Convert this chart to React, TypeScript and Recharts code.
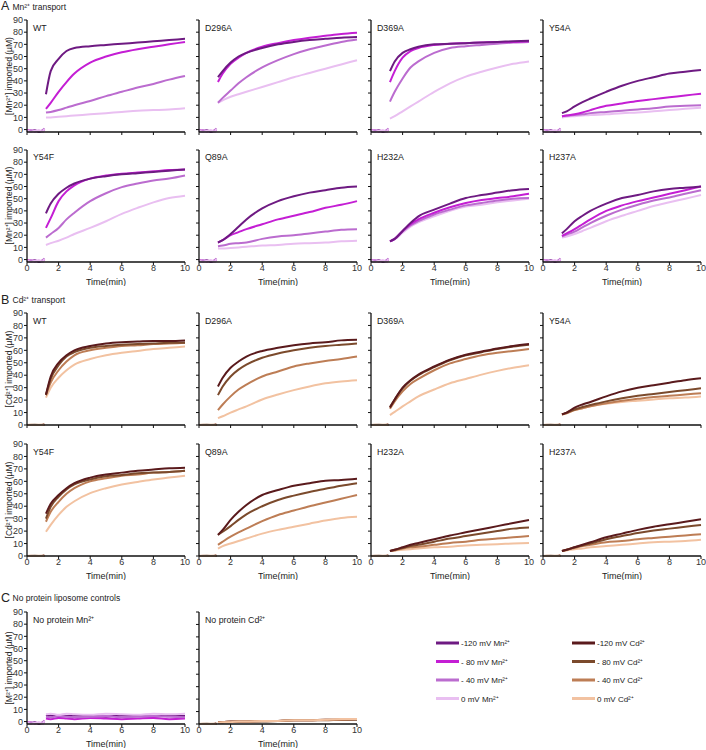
import React from 'react';
import { LineChart, Line, XAxis, YAxis } from 'recharts';

const FONT = '"Liberation Sans", Arial, Helvetica, sans-serif';

// time grids (min)
const baseTimes = [0, 0.25, 0.5, 0.75, 1.0, 1.1];
const gapTime = 1.15;
const curveTimes = [1.2, 1.5, 2, 2.5, 3, 4, 5, 6, 7, 8, 9, 10];
const xTicks = [0, 2, 4, 6, 8, 10];
const yTicks = [0, 10, 20, 30, 40, 50, 60, 70, 80, 90];

// series order: -120 mV, -80 mV, -40 mV, 0 mV
const mnColors = ['#6e1a82', '#c41ed4', '#bb6ccf', '#e9bff1'];
const cdColors = ['#5a1a1c', '#7b4a2c', '#bd7d55', '#f2c2a1'];
const mnLegend = ['-120 mV Mn²⁺', '- 80 mV Mn²⁺', '- 40 mV Mn²⁺', '0 mV Mn²⁺'];
const cdLegend = ['-120 mV Cd²⁺', '- 80 mV Cd²⁺', '- 40 mV Cd²⁺', '0 mV Cd²⁺'];

// pre-voltage baselines
const mnBase = [
  [-1, -1.5, -0.5, -2, -1, 0.5],
  [-0.5, -1, -1.5, -1, -1.5, 0],
  [-1.5, -0.5, -1, -1.5, -0.5, 1],
  [-1, -2, -1, -0.5, -2, 0.5],
];
const cdBase = [
  [0, 0, 0, 0, 0.2, 0.5],
  [0, 0, 0.2, 0, 0, 0.3],
  [0, 0.2, 0, 0, 0.2, 0.2],
  [0, 0, 0, 0.2, 0, 0.3],
];

// A: Mn2+ transport
const mnWT = [
  [29, 48, 58, 64.5, 67, 68.5, 69.5, 70.5, 71.5, 72.5, 73.5, 74.5],
  [17, 22, 31, 39, 46, 55, 60, 63.5, 66, 68, 70, 72],
  [14, 14.5, 16, 18, 20, 23.5, 27.5, 31, 34.5, 37.5, 41, 44],
  [10, 10, 10.5, 11, 11.5, 12.5, 13.5, 14.5, 15.5, 16, 16.5, 17.5],
];
const mnD296A = [
  [43, 48, 55, 60, 63, 67, 70, 72, 73.5, 74.5, 75.5, 76],
  [39, 46, 54, 59, 63, 68, 71, 73.5, 75.5, 77, 78.5, 79.5],
  [22, 26, 32, 38, 43, 51, 57, 62, 66, 69, 72, 74],
  [22, 24, 27, 29, 31, 35, 39, 43, 46.5, 50, 53.5, 57],
];
const mnD369A = [
  [48, 56, 63, 66, 68, 70, 70.5, 71, 71.5, 72, 72.5, 73],
  [39, 48, 59, 64.5, 67, 69.5, 70.5, 71, 71.5, 72, 72, 72.5],
  [23, 31, 42, 51, 56, 63, 67, 68.5, 69.5, 70.5, 71.5, 72],
  [9, 11, 15, 19, 23, 31, 38, 43.5, 47.5, 51, 54, 56],
];
const mnY54A = [
  [13.5, 15, 19, 22.5, 25.5, 31, 36, 40, 43, 46, 47.5, 49],
  [11, 11.5, 12.5, 14, 16, 19.5, 21.5, 23.5, 25, 26.5, 28, 29.5],
  [11, 11.5, 12, 12.5, 13.5, 14.5, 15.5, 16.5, 17.5, 19, 19.5, 20],
  [10, 10.5, 11, 11.5, 12, 12.5, 13.5, 14, 15, 16, 17, 18],
];
const mnY54F = [
  [38, 46, 54, 59, 62.5, 66.5, 68.5, 70, 71, 72, 73, 74],
  [26, 34, 48, 56, 61, 66.5, 69, 70.5, 71.5, 72.5, 73.5, 74],
  [18, 21, 26, 33, 38.5, 48, 54.5, 59.5, 62.5, 65, 66.5, 69],
  [12, 13.5, 15.5, 18, 21, 26, 31.5, 37.5, 42.5, 47, 50.5, 52.5],
];
const mnQ89A = [
  [14, 16, 21, 27, 33, 42, 48, 52, 55, 57, 59, 60],
  [14, 16, 20, 22.5, 25, 29, 33, 36, 39, 42.5, 45, 48],
  [11, 11.5, 13, 13.5, 14, 17, 19, 20, 21.5, 23, 24.5, 25],
  [9, 9, 9.5, 10, 10.5, 11.5, 12, 13, 13.5, 14, 15, 15.5],
];
const mnH232A = [
  [15, 17, 23.5, 30, 35.5, 41, 46, 50.5, 53, 55, 57, 58],
  [15, 17, 23.5, 29, 33, 38.5, 43, 46.5, 49, 50.5, 52, 54],
  [15, 17, 23, 28, 31.5, 37, 41, 44.5, 46.5, 48.5, 50, 50.5],
  [15, 16.5, 22, 27, 30.5, 35.5, 40, 43.5, 45, 47, 48.5, 50],
];
const mnH237A = [
  [21.5, 25, 31.5, 36, 40, 46, 50.5, 53, 56, 58, 59, 60],
  [19.5, 21.5, 25, 29, 33, 40, 44.5, 48, 51, 54, 57, 60],
  [19, 20.5, 23, 26.5, 30, 36, 41, 45, 48.5, 51, 54, 57],
  [18, 19, 21, 23.5, 26, 31.5, 36, 40, 44, 47, 50, 53],
];

// B: Cd2+ transport
const cdWT = [
  [24.5, 39, 50, 56, 60, 63.5, 65.5, 66.5, 67, 67.5, 67.5, 68],
  [24, 37, 48, 55, 58.5, 62, 63.5, 64.5, 65, 65.5, 66, 66],
  [24, 34, 44, 51, 56, 60, 62, 63.5, 64, 65, 65.5, 66],
  [22, 30, 38, 44, 48.5, 53, 56, 58, 59.5, 61, 62, 63],
];
const cdD296A = [
  [31, 38, 46, 51, 55, 59.5, 62, 64, 65.5, 66.5, 68, 68.5],
  [24, 31, 39, 44.5, 48.5, 54, 57.5, 60, 62, 63.5, 64.5, 65.5],
  [12, 16.5, 23, 28.5, 32.5, 39, 43, 47, 49.5, 51.5, 53, 55],
  [5.5, 7, 10, 12.5, 15, 20.5, 24.5, 28, 31, 33.5, 35, 36],
];
const cdD369A = [
  [14, 20.5, 30, 36, 40.5, 47, 52.5, 56.5, 59, 61.5, 63.5, 65],
  [14.5, 20.5, 29.5, 35.5, 40, 46.5, 52, 56, 58.5, 61, 63, 64.5],
  [13, 19, 27, 33, 37, 44, 49.5, 53, 56, 58, 59.5, 61],
  [8, 10.5, 15, 19, 23, 28.5, 33.5, 37, 40.5, 43.5, 46, 48],
];
const cdY54A = [
  [8.5, 10, 14, 16.5, 18.5, 23, 27, 30, 32, 34, 36, 37.5],
  [8.5, 10, 12.5, 14.5, 16, 19, 21.5, 23.5, 25, 26.5, 28, 29.5],
  [8.5, 9.5, 12, 13.5, 15, 17.5, 19.5, 21, 22.5, 23.5, 24.5, 25.5],
  [8.5, 9.5, 12, 13.5, 15, 17, 18.5, 19.5, 20.5, 21.5, 22, 23],
];
const cdY54F = [
  [34, 42, 49, 54.5, 58.5, 63, 65.5, 67, 68.5, 69.5, 70.5, 71],
  [30, 39.5, 47.5, 53.5, 57.5, 61.5, 64, 65, 66.5, 67, 67.5, 68.5],
  [27.5, 35.5, 43.5, 50, 54.5, 60, 62.5, 64.5, 65.5, 67, 67.5, 68.5],
  [19.5, 25, 33, 39.5, 44, 50.5, 54.5, 57.5, 59.5, 61.5, 63, 64.5],
];
const cdQ89A = [
  [17, 21, 29, 35.5, 41, 49, 53, 56.5, 58.5, 60.5, 61, 62],
  [17, 19.5, 24, 29, 33.5, 40, 45, 48.5, 51.5, 54, 56.5, 58.5],
  [9, 11.5, 15.5, 19, 22, 28, 33, 36.5, 40, 43, 46, 49],
  [6, 8, 10, 12, 14, 18, 21, 23.5, 26, 28.5, 30.5, 31.5],
];
const cdH232A = [
  [4, 5, 7, 9, 10.5, 13.5, 16.5, 19, 21.5, 24, 26.5, 29],
  [4, 5, 6.5, 8, 9, 11.5, 14, 16, 18, 20, 22, 23],
  [4, 4.5, 6, 7, 7.5, 9, 10.5, 11.5, 13, 14, 15, 16],
  [4, 4.5, 5, 5.5, 6, 7, 7.5, 8.5, 9, 9.5, 10, 10.5],
];
const cdH237A = [
  [4, 5, 7, 9, 11, 15, 18, 21, 23.5, 25.5, 27.5, 29.5],
  [4, 5, 7, 8.5, 10, 13.5, 16, 18.5, 20.5, 22, 23.5, 25],
  [4, 5, 6.5, 8, 9, 11, 12, 13.5, 14.5, 15.5, 16.5, 17.5],
  [4, 4.5, 5.5, 6, 7, 8, 9, 10, 11, 11.5, 12, 13],
];

// C: no protein controls
const ctrlMn = [
  [4.5, 5, 4, 4.5, 5, 4.5, 4, 5, 4.5, 4, 5, 4.5],
  [2.5, 2, 3, 2.5, 2, 3, 2.5, 2, 2.5, 3, 2, 2.5],
  [4, 3.5, 4.5, 4, 3.5, 4, 4.5, 3.5, 4, 4.5, 4, 3.5],
  [6, 6.5, 5.5, 6.5, 6, 5.5, 6.5, 6, 5.5, 6.5, 6, 6.5],
];
const ctrlCd = [
  [1.5, 1.5, 2, 2, 2, 2.5, 2.5, 3, 3, 3.5, 3.5, 4],
  [1.5, 1.5, 1.5, 2, 2, 2, 2.5, 3, 3, 3, 3.5, 3.5],
  [1.5, 1.5, 2, 2, 2, 2.5, 2.5, 3, 3, 3.5, 3.5, 4],
  [1, 1.5, 1.5, 2, 2, 2.5, 2.5, 3, 3, 3.5, 4, 4],
];

function buildRows(series: number[][], base: number[][]) {
  const rows: any[] = [];
  baseTimes.forEach((t, i) => {
    const r: any = { t };
    series.forEach((_, k) => { r['b' + k] = base[k][i]; });
    rows.push(r);
  });
  rows.push({ t: gapTime });
  curveTimes.forEach((t, i) => {
    const r: any = { t };
    series.forEach((s, k) => { r['s' + k] = s[i]; });
    rows.push(r);
  });
  return rows;
}

const PLOT_W = 158;
const PLOT_H = 112;
const AX_W = 27;
const MT = 6;
const MR = 8;
const XH = 24;

const COLS = [27, 199, 371, 543];
const ROW_A1 = 20;
const ROW_A2 = 149.5;
const ROW_B1 = 313;
const ROW_B2 = 444;
const ROW_C = 612;

type PanelProps = {
  left: number;
  top: number;
  rows: any[];
  colors: string[];
  showY: boolean;
  showX: boolean;
  lightOnTop: boolean;
};

function Panel({ left, top, rows, colors, showY, showX, lightOnTop }: PanelProps) {
  const curveOrder = lightOnTop ? [0, 1, 2, 3] : [3, 2, 1, 0];
  return (
    <div style={{ position: 'absolute', left: left - AX_W, top: top - MT }}>
      <LineChart
        width={AX_W + PLOT_W + MR}
        height={MT + PLOT_H + XH}
        data={rows}
        margin={{ top: MT, right: MR, bottom: 0, left: 0 }}
      >
        <XAxis
          dataKey="t"
          type="number"
          domain={[0, 10]}
          ticks={xTicks}
          interval={0}
          height={XH}
          tickSize={3}
          tickMargin={0}
          axisLine={{ stroke: '#111', strokeWidth: 1.3 }}
          tickLine={{ stroke: '#111', strokeWidth: 1 }}
          tick={{ fontSize: 9, fill: '#333', fontFamily: FONT }}
          tickFormatter={(v: number) => (showX ? String(v) : '')}
          label={
            showX
              ? { value: 'Time(min)', position: 'insideBottom', offset: 1, fontSize: 9, fill: '#222', fontFamily: FONT }
              : undefined
          }
        />
        <YAxis
          type="number"
          domain={[0, 90]}
          ticks={yTicks}
          interval={0}
          width={AX_W}
          tickSize={3}
          tickMargin={1}
          axisLine={{ stroke: '#111', strokeWidth: 1.3 }}
          tickLine={{ stroke: '#111', strokeWidth: 1 }}
          tick={{ fontSize: 9, fill: '#333', fontFamily: FONT }}
          tickFormatter={(v: number) => (showY ? String(v) : '')}
        />
        {[0, 1, 2, 3].map((k) => (
          <Line
            key={'b' + k}
            dataKey={'b' + k}
            type="linear"
            stroke={colors[k]}
            strokeWidth={2}
            dot={false}
            activeDot={false}
            connectNulls={false}
            isAnimationActive={false}
          />
        ))}
        {curveOrder.map((k) => (
          <Line
            key={'s' + k}
            dataKey={'s' + k}
            type="monotone"
            stroke={colors[k]}
            strokeWidth={2}
            dot={false}
            activeDot={false}
            connectNulls={false}
            isAnimationActive={false}
          />
        ))}
      </LineChart>
    </div>
  );
}

const panels = [
  { name: 'WT', col: 0, top: ROW_A1, s: mnWT, mn: true, x: false },
  { name: 'D296A', col: 1, top: ROW_A1, s: mnD296A, mn: true, x: false },
  { name: 'D369A', col: 2, top: ROW_A1, s: mnD369A, mn: true, x: false },
  { name: 'Y54A', col: 3, top: ROW_A1, s: mnY54A, mn: true, x: false },
  { name: 'Y54F', col: 0, top: ROW_A2, s: mnY54F, mn: true, x: true },
  { name: 'Q89A', col: 1, top: ROW_A2, s: mnQ89A, mn: true, x: true },
  { name: 'H232A', col: 2, top: ROW_A2, s: mnH232A, mn: true, x: true },
  { name: 'H237A', col: 3, top: ROW_A2, s: mnH237A, mn: true, x: true },
  { name: 'WT', col: 0, top: ROW_B1, s: cdWT, mn: false, x: false },
  { name: 'D296A', col: 1, top: ROW_B1, s: cdD296A, mn: false, x: false },
  { name: 'D369A', col: 2, top: ROW_B1, s: cdD369A, mn: false, x: false },
  { name: 'Y54A', col: 3, top: ROW_B1, s: cdY54A, mn: false, x: false },
  { name: 'Y54F', col: 0, top: ROW_B2, s: cdY54F, mn: false, x: true },
  { name: 'Q89A', col: 1, top: ROW_B2, s: cdQ89A, mn: false, x: true },
  { name: 'H232A', col: 2, top: ROW_B2, s: cdH232A, mn: false, x: true },
  { name: 'H237A', col: 3, top: ROW_B2, s: cdH237A, mn: false, x: true },
  { name: 'No protein Mn²⁺', col: 0, top: ROW_C, s: ctrlMn, mn: true, x: true, light: true },
  { name: 'No protein Cd²⁺', col: 1, top: ROW_C, s: ctrlCd, mn: false, x: true, light: true },
];

const yLabels = [
  { top: ROW_A1, text: '[Mn²⁺] imported (µM)' },
  { top: ROW_A2, text: '[Mn²⁺] imported (µM)' },
  { top: ROW_B1, text: '[Cd²⁺] imported (µM)' },
  { top: ROW_B2, text: '[Cd²⁺] imported (µM)' },
  { top: ROW_C, text: '[M²⁺] imported (µM)' },
];

const sections = [
  { letter: 'A', title: 'Mn²⁺ transport', y: 10 },
  { letter: 'B', title: 'Cd²⁺ transport', y: 303.5 },
  { letter: 'C', title: 'No protein liposome controls', y: 601.5 },
];

const legendRowsY = [643, 661.5, 680, 698.5];

export default function App() {
  return (
    <div
      style={{
        position: 'absolute',
        left: 0,
        top: 0,
        width: 706,
        height: 750,
        background: '#fff',
        fontFamily: FONT,
        overflow: 'hidden',
      }}
    >
      {panels.map((p: any, i) => (
        <Panel
          key={i}
          left={COLS[p.col]}
          top={p.top}
          rows={buildRows(p.s, p.mn ? mnBase : cdBase)}
          colors={p.mn ? mnColors : cdColors}
          showY={p.col === 0}
          showX={p.x}
          lightOnTop={!!p.light}
        />
      ))}
      <svg
        width={706}
        height={750}
        style={{ position: 'absolute', left: 0, top: 0, pointerEvents: 'none' }}
        fontFamily={FONT}
      >
        {sections.map((s, i) => (
          <g key={i}>
            <text x={1} y={s.y} fontSize={12.5} fill="#222">{s.letter}</text>
            <text x={12.5} y={s.y - 0.5} fontSize={8.5} fill="#222">{s.title}</text>
          </g>
        ))}
        {panels.map((p, i) => (
          <text key={i} x={COLS[p.col] + 6} y={p.top + 10.8} fontSize={8.8} fill="#222">
            {p.name}
          </text>
        ))}
        {yLabels.map((l, i) => (
          <text
            key={i}
            x={0}
            y={0}
            fontSize={8.5}
            fill="#222"
            textAnchor="middle"
            transform={`translate(11.5, ${l.top + PLOT_H / 2}) rotate(-90)`}
          >
            {l.text}
          </text>
        ))}
        {mnLegend.map((t, i) => (
          <g key={'m' + i}>
            <line x1={436} x2={459} y1={legendRowsY[i]} y2={legendRowsY[i]} stroke={mnColors[i]} strokeWidth={3} />
            <text x={461} y={legendRowsY[i] + 3} fontSize={8} fill="#222">{t}</text>
          </g>
        ))}
        {cdLegend.map((t, i) => (
          <g key={'c' + i}>
            <line x1={572} x2={595} y1={legendRowsY[i]} y2={legendRowsY[i]} stroke={cdColors[i]} strokeWidth={3} />
            <text x={597} y={legendRowsY[i] + 3} fontSize={8} fill="#222">{t}</text>
          </g>
        ))}
      </svg>
    </div>
  );
}
